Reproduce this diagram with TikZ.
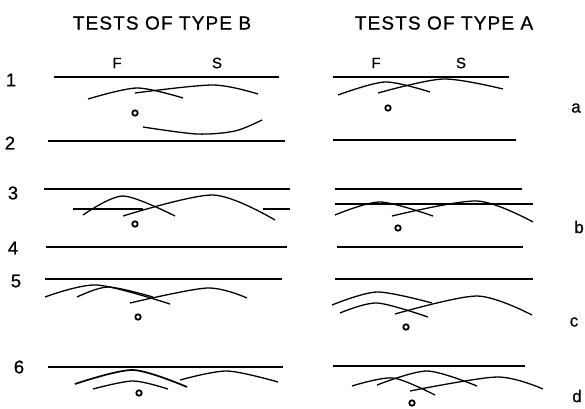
\documentclass[tikz,border=0pt]{standalone}
\usepackage{fontspec}
\setmainfont[FakeBold=0.8]{Liberation Sans}
\newfontfamily\spaced[LetterSpace=6,FakeBold=0.8]{Liberation Sans}
\begin{document}
\begin{tikzpicture}[x=1pt,y=-1pt,
  baseline/.style={line width=1.6pt},
  arcline/.style={line width=1.3pt},
  thickarc/.style={line width=1.7pt},
  ring/.style={line width=1.8pt},
  title/.style={inner sep=0pt,font=\spaced\fontsize{19}{19}\selectfont},
  colhead/.style={inner sep=0pt,font=\fontsize{15}{15}\selectfont},
  rownum/.style={inner sep=0pt,font=\fontsize{18.5}{18.5}\selectfont},
  caselab/.style={inner sep=0pt,font=\fontsize{17}{17}\selectfont}]
\useasboundingbox (0,0) rectangle (585,408);

% titles and headings
\node[title] (tB) at (162,23) {TESTS OF TYPE B};
\node[title] (tA) at (444,23) {TESTS OF TYPE A};
\node[colhead] (FB) at (117,63) {F};
\node[colhead] (SB) at (217,63) {S};
\node[colhead] (FA) at (376,63) {F};
\node[colhead] (SA) at (461,63) {S};

% row numbers
\node[rownum] (n1) at (11,80) {1};
\node[rownum] (n2) at (10,143) {2};
\node[rownum] (n3) at (13,193) {3};
\node[rownum] (n4) at (13,248) {4};
\node[rownum] (n5) at (16,281) {5};
\node[rownum] (n6) at (19,367) {6};

% case letters
\node[caselab] (la) at (576,108) {a};
\node[caselab] (lb) at (579,227) {b};
\node[caselab] (lc) at (574,322) {c};
\node[caselab] (ld) at (577,396) {d};

% ---------------- TYPE B ----------------
\draw[baseline] (54,77) -- (279,77);
\draw[arcline] plot[smooth] coordinates {(88,99) (137,88) (183,98)};
\draw[arcline] plot[smooth] coordinates {(135,93) (213,85) (258,94)};
\draw[ring] (135,113) circle[radius=2.7pt];
\draw[arcline] plot[smooth] coordinates {(143,127) (197,134) (235,131) (262,120)};

\draw[baseline] (48,141) -- (285,141);

\draw[baseline] (44,189) -- (290,189);
\draw[baseline] (73,209) -- (143,209);
\draw[baseline] (263,209) -- (290,209);
\draw[arcline] plot[smooth] coordinates {(83,215) (123,196) (175,216)};
\draw[arcline] plot[smooth] coordinates {(123,216) (213,195) (275,220)};
\draw[ring] (135,224) circle[radius=2.7pt];

\draw[baseline] (46,247) -- (287,247);

\draw[baseline] (45,279) -- (282,279);
\draw[arcline] plot[smooth] coordinates {(45,297) (97,285) (170,304)};
\draw[arcline] plot[smooth] coordinates {(77,297) (108,287) (153,297)};
\draw[arcline] plot[smooth] coordinates {(130,303) (207,288) (247,298)};
\draw[ring] (138,317) circle[radius=2.7pt];

\draw[baseline] (48,367) -- (283,367);
\draw[thickarc] plot[smooth] coordinates {(75,384) (133,370) (187,387)};
\draw[arcline] plot[smooth] coordinates {(180,380) (227,371) (278,382)};
\draw[arcline] plot[smooth] coordinates {(93,389) (133,381) (168,389)};
\draw[ring] (139,393) circle[radius=2.7pt];

% ---------------- TYPE A ----------------
\draw[baseline] (333,77) -- (509,77);
\draw[arcline] plot[smooth] coordinates {(338,95) (385,82) (430,92)};
\draw[arcline] plot[smooth] coordinates {(378,93) (443,79) (503,89)};
\draw[ring] (388,108) circle[radius=2.7pt];

\draw[baseline] (333,140) -- (516,140);

\draw[baseline] (335,189) -- (522,189);
\draw[baseline] (335,204) -- (533,204);
\draw[arcline] plot[smooth] coordinates {(335,215) (380,202) (433,216)};
\draw[arcline] plot[smooth] coordinates {(392,216) (477,201) (533,222)};
\draw[ring] (398,228) circle[radius=2.7pt];

\draw[baseline] (337,247) -- (523,247);

\draw[baseline] (335,279) -- (533,279);
\draw[arcline] plot[smooth] coordinates {(332,305) (377,292) (432,303)};
\draw[arcline] plot[smooth] coordinates {(340,313) (377,303) (428,317)};
\draw[arcline] plot[smooth] coordinates {(395,314) (477,296) (532,315)};
\draw[ring] (406,327) circle[radius=2.7pt];

\draw[baseline] (333,366) -- (525,366);
\draw[arcline] plot[smooth] coordinates {(352,386) (393,378) (435,395)};
\draw[arcline] plot[smooth] coordinates {(377,385) (427,371) (477,386)};
\draw[arcline] plot[smooth] coordinates {(410,391) (497,377) (543,389)};
\draw[ring] (412,403) circle[radius=2.7pt];
\end{tikzpicture}
\end{document}
